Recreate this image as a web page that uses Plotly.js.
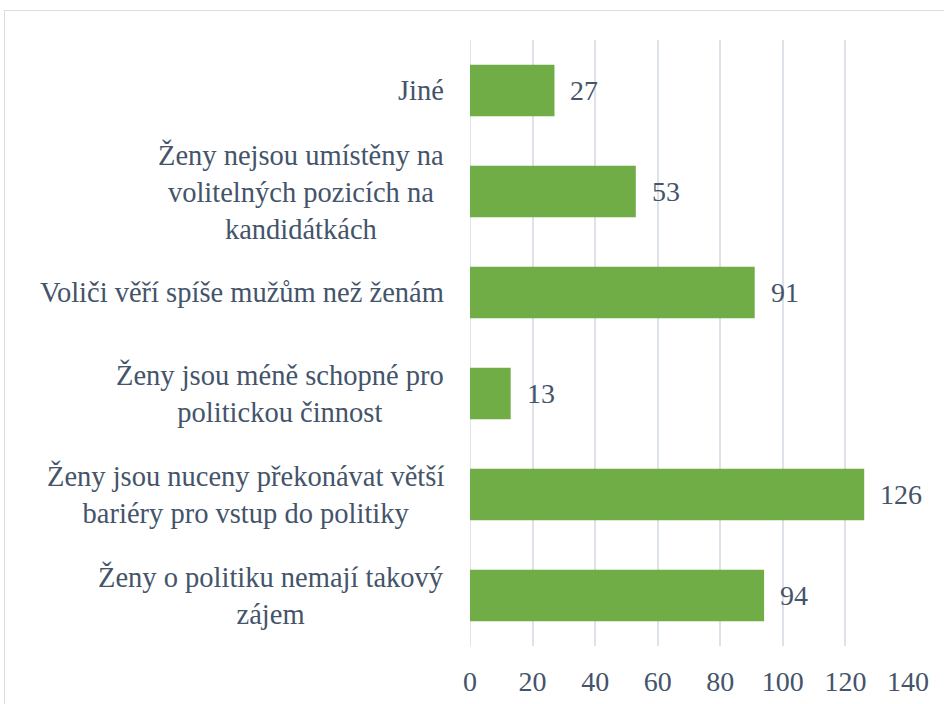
<!DOCTYPE html>
<html>
<head>
<meta charset="utf-8">
<script src="https://cdn.plot.ly/plotly-3.0.1.min.js"></script>
<style>
html,body{margin:0;padding:0;background:#fff;}
#frame{position:absolute;left:4px;top:10px;width:980px;height:740px;border:1px solid #d9dde4;box-sizing:border-box;}
#chart{position:absolute;left:0;top:0;width:944px;height:704px;}
</style>
</head>
<body>
<div id="frame"></div>
<div id="chart"></div>
<script>
const categories = [
  "Ženy o politiku nemají takový<br>zájem",
  "Ženy jsou nuceny překonávat větší<br>bariéry pro vstup do politiky",
  "Ženy jsou méně schopné pro<br>politickou činnost",
  "Voliči věří spíše mužům než ženám",
  "Ženy nejsou umístěny na<br>volitelných pozicích na<br>kandidátkách",
  "Jiné"
];
const values = [94, 126, 13, 91, 53, 27];
const xTicks = [0, 20, 40, 60, 80, 100, 120, 140];

const textColor = "#44546a";
const fontFam = "Times New Roman";
const catSize = 28.5;
const numSize = 28;

const annotations = [];
categories.forEach((c, i) => {
  annotations.push({
    x: 0, xref: "paper", xanchor: "right", xshift: -24,
    y: i, yref: "y", yanchor: "middle",
    text: c, showarrow: false, align: "center",
    font: {family: fontFam, size: catSize, color: textColor}
  });
  annotations.push({
    x: values[i], xref: "x", xanchor: "left", xshift: 14,
    y: i, yref: "y", yanchor: "middle",
    text: String(values[i]), showarrow: false,
    font: {family: fontFam, size: numSize, color: textColor}
  });
});

const trace = {
  type: "bar",
  orientation: "h",
  x: values,
  y: categories.map((c, i) => i),
  width: 0.51,
  marker: {color: "#70ad47"},
  hoverinfo: "none"
};

const layout = {
  width: 944, height: 704,
  margin: {l: 470, r: 36, t: 40, b: 58},
  paper_bgcolor: "rgba(0,0,0,0)",
  plot_bgcolor: "rgba(0,0,0,0)",
  showlegend: false,
  xaxis: {
    range: [0, 140],
    tickvals: xTicks,
    ticktext: xTicks.map(String),
    showgrid: true, gridcolor: "#dde1e9", gridwidth: 1.8,
    zeroline: false, showline: false,
    ticks: "", ticklabelstandoff: 16,
    tickfont: {family: fontFam, size: numSize, color: textColor}
  },
  yaxis: {
    range: [-0.5, 5.5],
    showticklabels: false, showgrid: false, zeroline: false, showline: false,
    ticks: ""
  },
  shapes: [{
    type: "line", xref: "x", yref: "paper", x0: 0, x1: 0, y0: 0, y1: 1,
    line: {color: "#dde1e9", width: 1.8}, layer: "below"
  }],
  annotations: annotations
};

Plotly.newPlot("chart", [trace], layout, {displayModeBar: false});
</script>
</body>
</html>
